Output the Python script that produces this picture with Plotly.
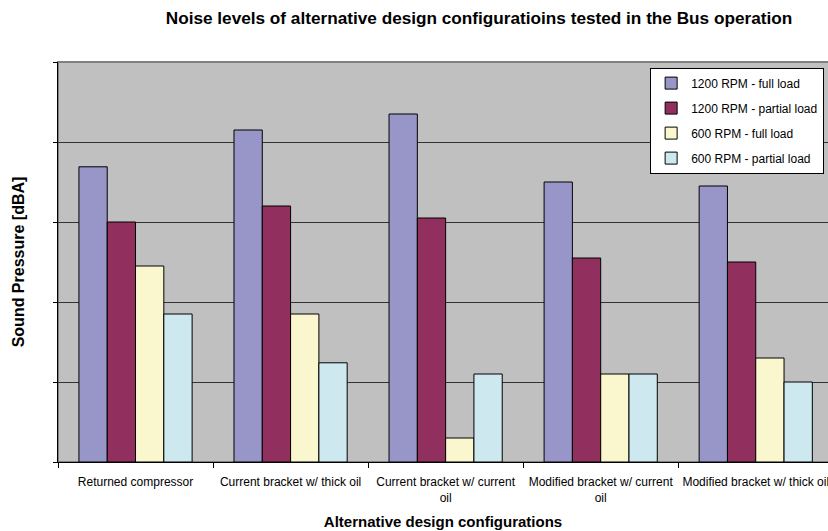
import plotly.graph_objects as go

# Design configurations tested (x categories) and their wrapped axis labels
categories = [
    "Returned compressor",
    "Current bracket w/ thick oil",
    "Current bracket w/ current oil",
    "Modified bracket w/ current oil",
    "Modified bracket w/ thick oil",
]
tick_labels = [
    "Returned compressor",
    "Current bracket w/ thick oil",
    "Current bracket w/ current<br>oil",
    "Modified bracket w/ current<br>oil",
    "Modified bracket w/ thick oil",
]

# Sound pressure per operating condition
series_names = [
    "1200 RPM - full load",
    "1200 RPM - partial load",
    "600 RPM - full load",
    "600 RPM - partial load",
]
rpm1200_full = [73.8, 83.0, 87.0, 70.0, 69.0]
rpm1200_partial = [60.0, 64.0, 61.0, 51.0, 50.0]
rpm600_full = [49.0, 37.0, 6.0, 22.0, 26.0]
rpm600_partial = [37.0, 24.8, 22.0, 22.0, 20.0]

series_values = [rpm1200_full, rpm1200_partial, rpm600_full, rpm600_partial]
colors = ["#9896C9", "#91305E", "#FAF7CE", "#CDE9EF"]

FONT = "Liberation Sans, Arial, sans-serif"

fig = go.Figure()
for i, (name, vals, col) in enumerate(zip(series_names, series_values, colors)):
    fig.add_trace(go.Bar(
        x=categories,
        y=vals,
        name=name,
        legendgroup=f"g{i}",
        marker=dict(color=col, line=dict(color="#000000", width=1)),
    ))

fig.update_layout(
    width=828,
    height=531,
    barmode="group",
    bargap=0.27,
    bargroupgap=0,
    paper_bgcolor="white",
    plot_bgcolor="#C0C0C0",
    margin=dict(l=58, r=0, t=62, b=69),
    font=dict(family=FONT, size=12, color="#000000"),
    title=dict(
        text="<b>Noise levels of alternative design configuratioins tested in the Bus operation</b>",
        x=479 / 828, xanchor="center",
        y=1 - 18 / 531, yanchor="middle",
        font=dict(family=FONT, size=17.2, color="#000000"),
    ),
    showlegend=True,
    legend=dict(
        x=0.769, xanchor="left",
        y=0.986, yanchor="top",
        bgcolor="white",
        bordercolor="#000000",
        borderwidth=1,
        font=dict(family=FONT, size=12, color="#000000"),
        traceorder="grouped",
        tracegroupgap=6,
    ),
)

fig.update_xaxes(
    type="category",
    range=[-0.5, 4.466],
    tickvals=categories,
    ticktext=tick_labels,
    tickangle=0,
    tickson="boundaries",
    ticks="outside",
    ticklen=5,
    tickcolor="#000000",
    ticklabelstandoff=9,
    showline=True,
    linecolor="#000000",
    linewidth=1,
    showgrid=False,
    tickfont=dict(family=FONT, size=12, color="#000000"),
    title=dict(
        text="<b>Alternative design configurations</b>",
        font=dict(family=FONT, size=15, color="#000000"),
        standoff=12,
    ),
)

fig.update_yaxes(
    range=[0, 100],
    dtick=20,
    showticklabels=False,
    ticks="outside",
    ticklen=4,
    tickcolor="#000000",
    showline=True,
    linecolor="#000000",
    linewidth=1,
    showgrid=True,
    gridcolor="#333333",
    gridwidth=1,
    zeroline=False,
    title=dict(
        text="<b>Sound Pressure [dBA]</b>",
        font=dict(family=FONT, size=16, color="#000000"),
        standoff=24,
    ),
)

# Gray frame around the plot area
fig.add_shape(
    type="rect", xref="paper", yref="paper",
    x0=0, x1=1.01, y0=0, y1=1,
    line=dict(color="#808080", width=2),
    layer="below",
)

fig.write_html("out.html")
